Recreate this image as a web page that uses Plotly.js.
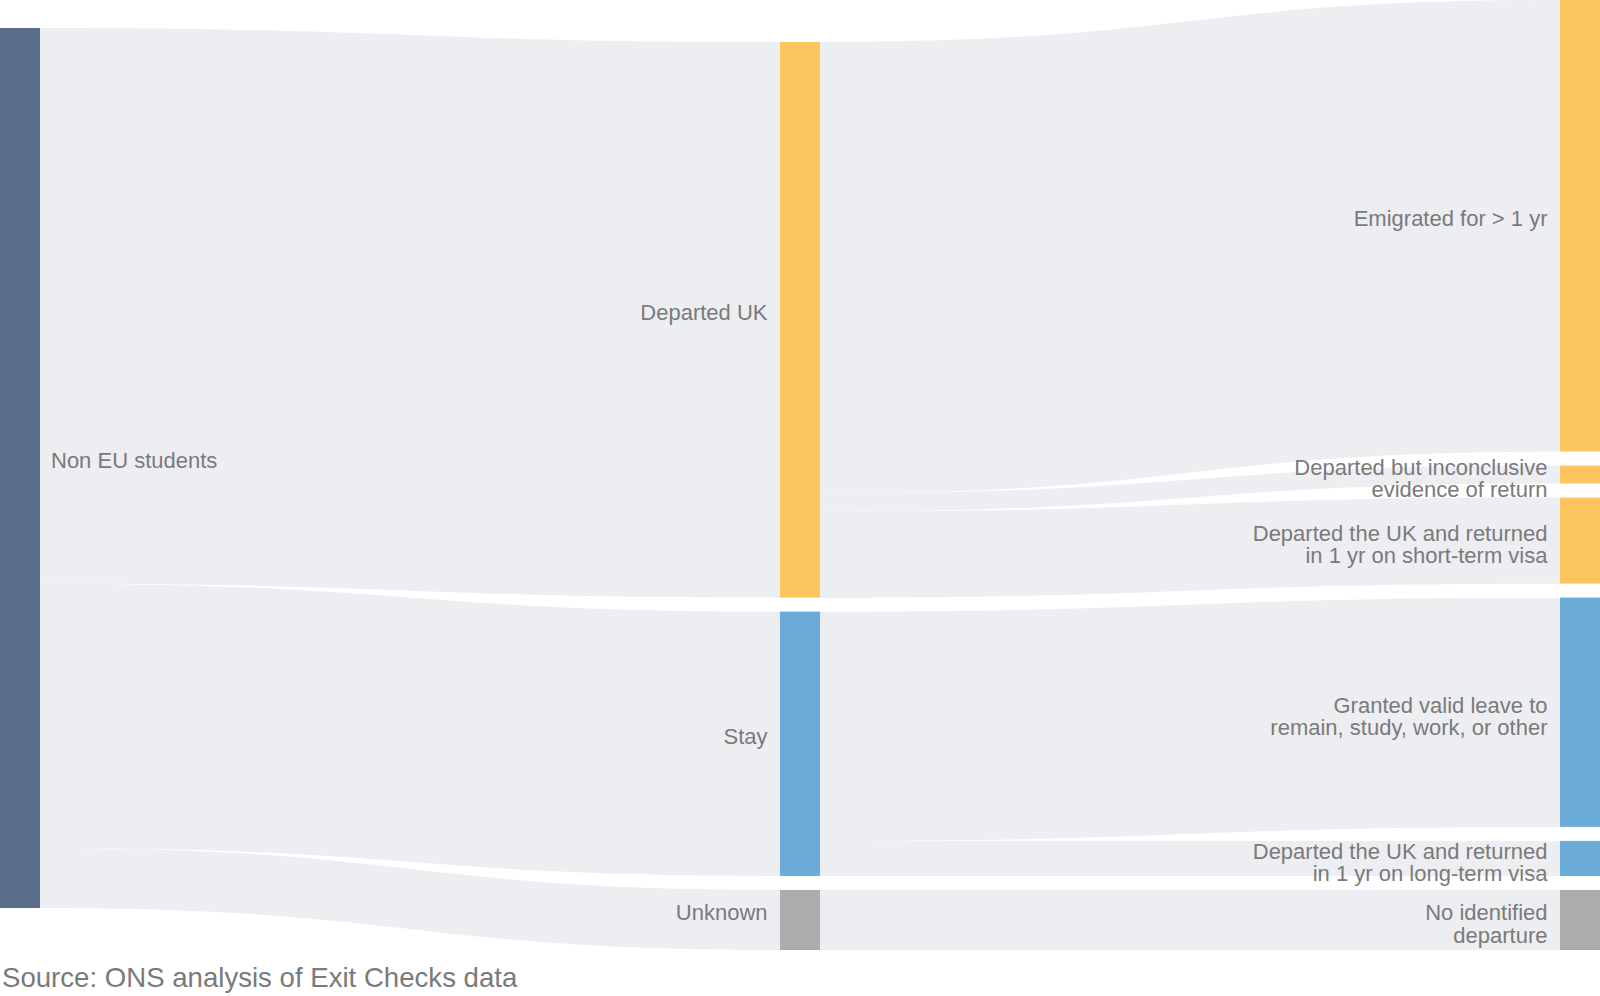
<!DOCTYPE html>
<html>
<head>
<meta charset="utf-8">
<script src="https://cdn.plot.ly/plotly-3.0.1.min.js"></script>
<style>
  html, body { margin: 0; padding: 0; background: #ffffff; }
  #chart { width: 1600px; height: 996px; }
  .node-label { text-shadow: none !important; }
</style>
</head>
<body>
<div id="chart"></div>
<script>
// ---------- data ----------
const nodeLabels = [
  "Non EU students",
  "Departed UK",
  "Stay",
  "Unknown",
  "Emigrated for > 1 yr",
  "Departed but inconclusive<br>evidence of return",
  "Departed the UK and returned<br>in 1 yr on short-term visa",
  "Granted valid leave to<br>remain, study, work, or other",
  "Departed the UK and returned<br>in 1 yr on long-term visa",
  "No identified<br>departure"
];
const linkSource = [0, 0, 0, 1, 1, 1, 2, 2, 3];
const linkTarget = [1, 2, 3, 4, 5, 6, 7, 8, 9];
const linkValue  = [555, 264, 60, 451, 18, 86, 229, 35, 60];
const sourceNote = "Source: ONS analysis of Exit Checks data";

// ---------- styles / layout constants ----------
const nodeColors = [
  "#5a6d89", "#fdc55e", "#6babd8", "#acacac",
  "#fdc55e", "#fdc55e", "#fdc55e",
  "#6babd8", "#6babd8", "#acacac"
];
const W = 1600, H = 996, MB = 46;
const PH = H - MB;              // plot-area height
const PAD = 14, THICK = 40;
const nodeColumn = [0, 1, 1, 1, 2, 2, 2, 2, 2, 2];
const columnCenterX = [THICK / 2, W / 2, W - THICK / 2];
const columnTop = [28, 42, 0];  // top offset of each column (px)

// node values from links
const nodeValue = nodeLabels.map((_, i) => {
  let inV = 0, outV = 0;
  linkValue.forEach((v, k) => {
    if (linkTarget[k] === i) inV += v;
    if (linkSource[k] === i) outV += v;
  });
  return Math.max(inV, outV);
});
// same scale as the sankey engine: tightest column fills plot height
const cols = [0, 1, 2].map(c => nodeLabels.map((_, i) => i).filter(i => nodeColumn[i] === c));
const ky = Math.min(...cols.map(ids =>
  (PH - (ids.length - 1) * PAD) / ids.reduce((s, i) => s + nodeValue[i], 0)));
const nodeX = new Array(nodeLabels.length);
const nodeY = new Array(nodeLabels.length);
cols.forEach((ids, c) => {
  let y = columnTop[c];
  ids.forEach(i => {
    const h = nodeValue[i] * ky;
    nodeX[i] = columnCenterX[c] / W;
    nodeY[i] = (y + h / 2) / PH;
    y += h + PAD;
  });
});

const FONT = "Liberation Sans, Arial, sans-serif";
const data = [{
  type: "sankey",
  orientation: "h",
  arrangement: "fixed",
  node: {
    label: nodeLabels,
    color: nodeColors,
    thickness: THICK,
    pad: PAD,
    x: nodeX,
    y: nodeY,
    line: { width: 0 }
  },
  link: {
    source: linkSource,
    target: linkTarget,
    value: linkValue,
    color: "rgba(237,238,242,1)"
  },
  textfont: { family: FONT, size: 22, color: "#7a7a7a" }
}];

const layout = {
  width: W,
  height: H,
  margin: { l: 0, r: 0, t: 0, b: MB },
  paper_bgcolor: "#ffffff",
  showlegend: false,
  annotations: [{
    text: sourceNote,
    xref: "paper", yref: "paper",
    x: 0, y: 0, xanchor: "left", yanchor: "top",
    yshift: -10,
    showarrow: false,
    font: { family: FONT, size: 27.6, color: "#7a7a7a" }
  }]
};

// label placement like the reference: first baseline at node middle,
// tight line spacing, labels left of nodes except the first column
const LINE_K = 1.02 / 1.3;
function fixLabels() {
  document.querySelectorAll('#chart .sankey-node').forEach(g => {
    const text = g.querySelector('.node-label');
    const rect = g.querySelector('.node-rect');
    if (!text || !rect) return;
    const d = g.__data__ || {};
    const h = (d.visibleHeight != null) ? d.visibleHeight : parseFloat(rect.getAttribute('height'));
    const w = (d.visibleWidth != null) ? d.visibleWidth : parseFloat(rect.getAttribute('width'));
    const x0 = (d.node && d.node.x0 != null) ? d.node.x0 : 0;
    const left = x0 > W * 0.25;
    text.querySelectorAll('tspan.line').forEach(t => {
      if (t.dataset.fixed) return;
      const dy = t.getAttribute('dy');
      if (dy && dy.indexOf('em') > 0) {
        t.setAttribute('dy', (parseFloat(dy) * LINE_K) + 'em');
      }
      t.dataset.fixed = '1';
    });
    const px = left ? -12.5 : w + 11;
    const py = h / 2 + 0.3;
    text.style.textAnchor = left ? 'end' : 'start';
    text.setAttribute('text-anchor', left ? 'end' : 'start');
    text.style.transform = 'translate(' + px + 'px,' + py + 'px)';
  });
}

Plotly.newPlot("chart", data, layout, { displayModeBar: false, staticPlot: true }).then(() => {
  fixLabels();
  setTimeout(fixLabels, 50);
  setTimeout(fixLabels, 600);
  setTimeout(fixLabels, 1200);
});
</script>
</body>
</html>
